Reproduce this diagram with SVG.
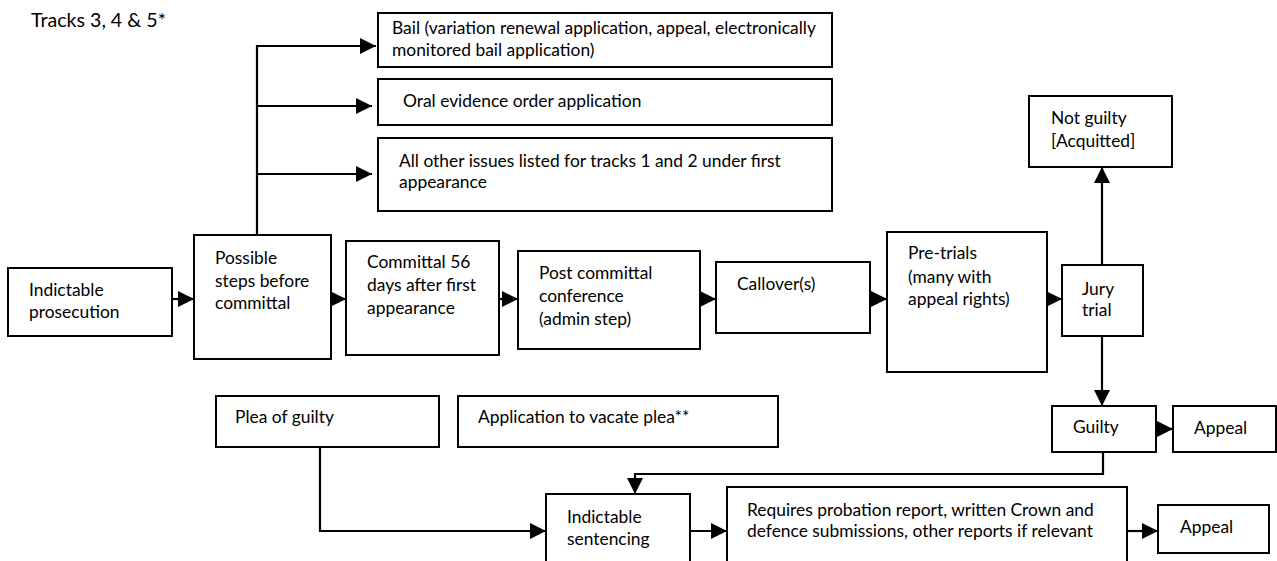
<svg xmlns="http://www.w3.org/2000/svg" width="1277" height="561" viewBox="0 0 1277 561">
<style>
.box{fill:#fff;stroke:#000;stroke-width:2}
.t{font-family:Lato,"Liberation Sans",sans-serif;font-size:17.4px;fill:#000}
.c{fill:none;stroke:#000;stroke-width:2.2}
</style>
<defs>
<marker id="ah" markerUnits="userSpaceOnUse" markerWidth="17" markerHeight="17" refX="16" refY="8" orient="auto">
<path d="M0,0 L16,8 L0,16 z" fill="#000"/>
</marker>
</defs>
<rect width="1277" height="561" fill="#fff"/>
<text class="t" x="31" y="27" style="font-size:19px" textLength="135" lengthAdjust="spacingAndGlyphs">Tracks 3, 4 &amp; 5*</text>

<g id="connectors">
<path class="c" d="M257,235 V46 H376" marker-end="url(#ah)"/>
<path class="c" d="M257,106 H372" marker-end="url(#ah)"/>
<path class="c" d="M257,174 H372" marker-end="url(#ah)"/>
<path class="c" d="M172,299 H194" marker-end="url(#ah)"/>
<path class="c" d="M331,299 H346" marker-end="url(#ah)"/>
<path class="c" d="M499,299 H518" marker-end="url(#ah)"/>
<path class="c" d="M700,299 H716" marker-end="url(#ah)"/>
<path class="c" d="M870,299 H887" marker-end="url(#ah)"/>
<path class="c" d="M1047,299 H1062" marker-end="url(#ah)"/>
<path class="c" d="M1102,265 V167" marker-end="url(#ah)"/>
<path class="c" d="M1102,336 V406" marker-end="url(#ah)"/>
<path class="c" d="M1156,429 H1173" marker-end="url(#ah)"/>
<path class="c" d="M1103,452 V474 H635 V494" marker-end="url(#ah)"/>
<path class="c" d="M320,447 V531 H546" marker-end="url(#ah)"/>
<path class="c" d="M690,531 H727" marker-end="url(#ah)"/>
<path class="c" d="M1127,531 H1158" marker-end="url(#ah)"/>
</g>

<g id="n-indictable-prosecution"><rect class="box" x="8" y="268" width="164" height="68"/><text class="t" x="29" y="296">Indictable</text><text class="t" x="29" y="318">prosecution</text></g>
<g id="n-possible"><rect class="box" x="194" y="235" width="137" height="124"/><text class="t" x="215" y="264">Possible</text><text class="t" x="215" y="287">steps before</text><text class="t" x="215" y="309">committal</text></g>
<g id="n-committal"><rect class="box" x="346" y="241" width="153" height="114"/><text class="t" x="367" y="268">Committal 56</text><text class="t" x="367" y="291">days after first</text><text class="t" x="367" y="314">appearance</text></g>
<g id="n-post-committal"><rect class="box" x="518" y="251" width="182" height="98"/><text class="t" x="539" y="279">Post committal</text><text class="t" x="539" y="302">conference</text><text class="t" x="539" y="325">(admin step)</text></g>
<g id="n-callover"><rect class="box" x="716" y="262" width="154" height="71"/><text class="t" x="737" y="290">Callover(s)</text></g>
<g id="n-pretrials"><rect class="box" x="887" y="232" width="160" height="140"/><text class="t" x="908" y="259">Pre-trials</text><text class="t" x="908" y="283">(many with</text><text class="t" x="908" y="305">appeal rights)</text></g>
<g id="n-jury"><rect class="box" x="1062" y="265" width="81" height="71"/><text class="t" x="1082" y="295">Jury</text><text class="t" x="1082" y="316">trial</text></g>
<g id="n-not-guilty"><rect class="box" x="1029" y="96" width="143" height="71"/><text class="t" x="1051" y="124">Not guilty</text><text class="t" x="1051" y="147">[Acquitted]</text></g>
<g id="n-bail"><rect class="box" x="378" y="13" width="454" height="54"/><text class="t" x="392" y="34">Bail (variation renewal application, appeal, electronically</text><text class="t" x="392" y="56">monitored bail application)</text></g>
<g id="n-oral"><rect class="box" x="378" y="79" width="454" height="46"/><text class="t" x="403" y="107">Oral evidence order application</text></g>
<g id="n-all-other"><rect class="box" x="378" y="138" width="454" height="73"/><text class="t" x="399" y="167">All other issues listed for tracks 1 and 2 under first</text><text class="t" x="399" y="188">appearance</text></g>
<g id="n-guilty"><rect class="box" x="1052" y="406" width="104" height="46"/><text class="t" x="1073" y="433">Guilty</text></g>
<g id="n-appeal1"><rect class="box" x="1173" y="406" width="103" height="46"/><text class="t" x="1194" y="434">Appeal</text></g>
<g id="n-plea"><rect class="box" x="216" y="396" width="223" height="51"/><text class="t" x="235" y="423">Plea of guilty</text></g>
<g id="n-vacate"><rect class="box" x="458" y="396" width="320" height="51"/><text class="t" x="478" y="423">Application to vacate plea**</text></g>
<g id="n-sentencing"><rect class="box" x="546" y="494" width="144" height="80"/><text class="t" x="567" y="523">Indictable</text><text class="t" x="567" y="545">sentencing</text></g>
<g id="n-requires"><rect class="box" x="727" y="487" width="400" height="90"/><text class="t" x="747" y="516">Requires probation report, written Crown and</text><text class="t" x="747" y="537">defence submissions, other reports if relevant</text></g>
<g id="n-appeal2"><rect class="box" x="1158" y="505" width="111" height="48"/><text class="t" x="1180" y="533">Appeal</text></g>
</svg>
